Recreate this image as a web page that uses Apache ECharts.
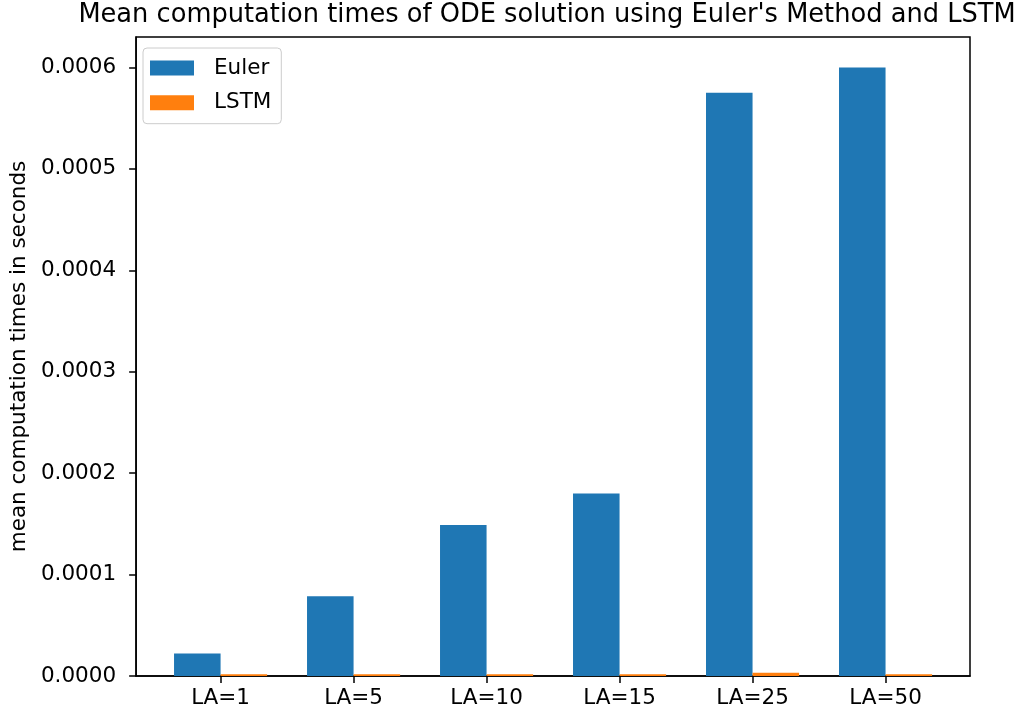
<!DOCTYPE html>
<html>
<head>
<meta charset="utf-8">
<script src="https://cdn.jsdelivr.net/npm/echarts@6/dist/echarts.min.js"></script>
<style>
html,body{margin:0;padding:0;background:#fff;}
#chart{width:1032px;height:717px;}
</style>
</head>
<body>
<div id="chart"></div>
<script>
var categories = ['LA=1', 'LA=5', 'LA=10', 'LA=15', 'LA=25', 'LA=50'];
var eulerTimes = [0.0000221, 0.0000787, 0.0001488, 0.00018, 0.000575, 0.0006];
var lstmTimes = [0.0000018, 0.0000018, 0.0000018, 0.0000018, 0.0000032, 0.0000018];
var yTicks = [0, 0.0001, 0.0002, 0.0003, 0.0004, 0.0005, 0.0006];
var titleText = "Mean computation times of ODE solution using Euler's Method and LSTM";
var yName = 'mean computation times in seconds';

var FONT = 'DejaVu Sans';
var FS = 21.5;
var catIdx = categories.map(function (c, i) { return i; });
function pairs(vals) { return vals.map(function (v, i) { return [i, v]; }); }

var chart = echarts.init(document.getElementById('chart'), null, {renderer: 'canvas'});
chart.setOption({
  animation: false,
  backgroundColor: '#ffffff',
  title: {
    text: titleText,
    left: 547,
    textAlign: 'center',
    top: 0,
    padding: 0,
    textStyle: {fontFamily: FONT, fontSize: 25.7, fontWeight: 'normal', color: '#000', lineHeight: 30}
  },
  legend: {
    orient: 'vertical',
    left: 143,
    top: 48,
    padding: [9, 10, 10, 7],
    itemWidth: 44,
    itemHeight: 15,
    itemGap: 12.7,
    borderColor: '#cccccc',
    borderWidth: 1,
    borderRadius: 4,
    backgroundColor: 'rgba(255,255,255,0.8)',
    icon: 'rect',
    textStyle: {fontFamily: FONT, fontSize: FS, color: '#000', lineHeight: 20, padding: [0, 0, 0, 15]},
    data: ['Euler', 'LSTM']
  },
  grid: {
    left: 133, top: 37, right: 62, bottom: 41,
    show: true, borderColor: '#000', borderWidth: 1.5,
    containLabel: false
  },
  xAxis: {
    type: 'value',
    min: -0.635,
    max: 5.635,
    splitLine: {show: false},
    axisLine: {show: true, onZero: false, lineStyle: {color: '#000', width: 1.5}},
    axisTick: {show: true, customValues: catIdx, length: 7, lineStyle: {color: '#000', width: 1.5}},
    axisLabel: {
      customValues: catIdx,
      margin: 11,
      fontFamily: FONT, fontSize: FS, color: '#000',
      formatter: function (v) { return categories[Math.round(v)]; }
    }
  },
  yAxis: {
    type: 'value',
    min: 0,
    max: 0.00063,
    name: yName,
    nameLocation: 'middle',
    nameRotate: 90,
    nameGap: 106,
    nameTextStyle: {fontFamily: FONT, fontSize: FS, color: '#000'},
    splitLine: {show: false},
    axisLine: {show: true, onZero: false, lineStyle: {color: '#000', width: 1.5}},
    axisTick: {show: true, customValues: yTicks, length: 7, lineStyle: {color: '#000', width: 1.5}},
    axisLabel: {
      customValues: yTicks,
      margin: 20,
      fontFamily: FONT, fontSize: FS, color: '#000',
      formatter: function (v) { return v.toFixed(4); }
    }
  },
  series: [
    {name: 'Euler', type: 'bar', data: pairs(eulerTimes), barWidth: '35%', barGap: '0%', itemStyle: {color: '#1f77b4'}},
    {name: 'LSTM', type: 'bar', data: pairs(lstmTimes), barWidth: '35%', barGap: '0%', itemStyle: {color: '#ff7f0e'}}
  ]
});
</script>
</body>
</html>
